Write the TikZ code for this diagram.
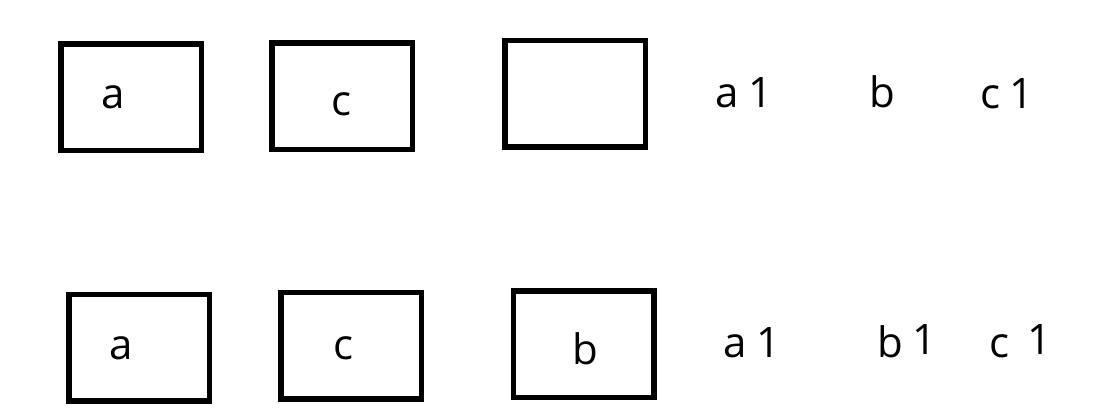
\documentclass[tikz,border=0pt]{standalone}
\usepackage{fontspec}
\setmainfont{Open Sans}
\begin{document}
\begin{tikzpicture}[x=1pt,y=-1pt,
  boxnode/.style={draw=black,line width=5.5pt,minimum width=140.5pt,minimum height=106.5pt,inner sep=0pt,fill=white},
  lbl/.style={font=\fontsize{42}{42}\selectfont,inner sep=0pt,anchor=base}]
\useasboundingbox[fill=white] (0,0) rectangle (1105,410);
% row 1
\node[boxnode] (r1a) at (131,97) {};
\node[boxnode] (r1c) at (342,96) {};
\node[boxnode] (r1e) at (575,93.5) {};
\node[lbl] (t1a) at (113,108) {a};
\node[lbl] (t1c) at (341,115) {c};
\node[lbl] (t1a1) at (744,107) {a\hspace{10pt}1};
\node[lbl] (t1b) at (882,107) {b};
\node[lbl] (t1c1) at (1007,108) {c\hspace{10pt}1};
% row 2
\node[boxnode] (r2a) at (139,347.5) {};
\node[boxnode] (r2c) at (351,345.5) {};
\node[boxnode] (r2b) at (583.5,344) {};
\node[lbl] (t2a) at (121,359) {a};
\node[lbl] (t2c) at (343,359) {c};
\node[lbl] (t2b) at (585,364) {b};
\node[lbl] (t2a1) at (752,357) {a\hspace{10pt}1};
\node[lbl] (t2b1) at (907,357) {b\hspace{10pt}\raisebox{3pt}{1}};
\node[lbl] (t2c1) at (1020,357) {c\hspace{18pt}\raisebox{3pt}{1}};
\end{tikzpicture}
\end{document}
